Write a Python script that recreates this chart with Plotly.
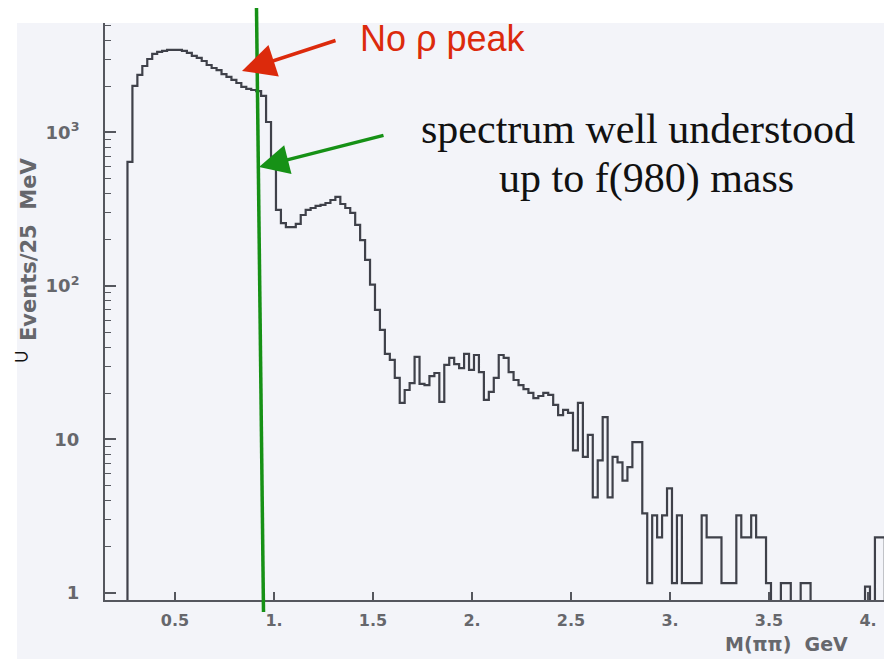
import numpy as np
import plotly.graph_objects as go

# Histogram of the pi-pi invariant mass spectrum, 25 MeV bins
first_edge = 0.26      # GeV, low edge of the first bin
bin_width = 0.025      # GeV
events = [
    643, 2010, 2370, 2710, 3010, 3250, 3350, 3400, 3450, 3450,
    3450, 3400, 3300, 3150, 3060, 2920, 2750, 2630, 2550, 2400,
    2300, 2200, 2100, 1980, 1920, 1890, 1860, 1730, 1170, 614,
    313, 257, 242, 242, 254, 290, 313, 322, 332, 337,
    347, 363, 380, 342, 322, 299, 250, 199, 148, 102,
    69.8, 51.7, 36.1, 33.0, 25.2, 17.3, 21.0, 23.3, 34.5, 23.0,
    22.6, 25.9, 27.1, 17.6, 30.6, 34.0, 31.0, 29.2, 36.1, 28.4,
    35.5, 27.5, 18.1, 20.4, 25.2, 35.5, 34.0, 27.5, 24.4, 22.6,
    21.3, 20.1, 18.6, 19.2, 20.1, 19.5, 16.8, 14.4, 15.6, 14.9,
    8.5, 17.3, 7.7, 10.7, 4.2, 7.3, 14.0, 4.2, 7.7, 7.1,
    5.4, 6.6, 9.6, 9.6, 3.3, 1.16, 3.2, 2.3, 3.2, 4.8,
    1.16, 3.2, 1.16, 1.16, 1.16, 1.16, 3.2, 2.3, 2.3, 2.3,
    1.16, 1.16, 1.16, 3.2, 2.3, 2.3, 3.2, 2.3, 2.3, 1.16,
    0, 0, 1.16, 1.16, 0, 0, 1.16, 1.16, 0, 0,
    0, 0, 0, 0, 0, 0, 0, 0, 0, 1.1,
    0, 2.3, 2.3,
]

x_tick_vals = [0.5, 1.0, 1.5, 2.0, 2.5, 3.0, 3.5, 4.0]
x_tick_text = ["0.5", "1.", "1.5", "2.", "2.5", "3.", "3.5", "4."]
y_tick_vals = [1, 10, 100, 1000]
y_tick_text = ["1", "10", "10<sup>2</sup>", "10<sup>3</sup>"]
y_minor_vals = [m * d for d in (1, 10, 100, 1000) for m in range(2, 10) if m * d <= 5000]

SCAN = "#f3f4f9"
INK = "#3f414a"
AXIS = "#55575e"
LABEL = "#66676c"
GREEN = "#169116"
RED = "#dc2a0c"

# step outline that drops to the baseline at empty bins and at both ends
counts = np.array(events, dtype=float)
edges = first_edge + bin_width * np.arange(len(counts) + 1)
floor = 0.3
shown = np.where(counts > 0, counts, floor)
xs = np.concatenate([[edges[0]], edges[:-1], [edges[-1], edges[-1]]])
ys = np.concatenate([[floor], shown, [shown[-1], floor]])

fig = go.Figure()
fig.add_trace(go.Scatter(
    x=xs, y=ys, mode="lines", line_shape="hv",
    line=dict(color=INK, width=2.2), hoverinfo="skip",
))

# plot area in pixels: x 105..884, y 23..600
L, R, T, B = 105, 884, 23, 600
W, H = R - L, B - T


def px(xp):
    return (xp - L) / W


def py(yp):
    return (B - yp) / H


fig.update_layout(
    width=884, height=659,
    margin=dict(l=L, r=884 - R, t=T, b=659 - B, pad=0),
    paper_bgcolor="white",
    plot_bgcolor=SCAN,
    showlegend=False,
    xaxis=dict(
        range=[0.1465, 4.0808], showgrid=False, zeroline=False,
        showline=True, linecolor=AXIS, linewidth=2,
        ticks="inside", ticklen=8, tickwidth=2, tickcolor=AXIS,
        tickvals=x_tick_vals, ticktext=x_tick_text,
        tickfont=dict(family="DejaVu Sans", size=16, color=LABEL, weight="bold"),
        ticklabelstandoff=5,
    ),
    yaxis=dict(
        type="log", range=[-0.0456, 3.713], showgrid=False, zeroline=False,
        showline=True, linecolor=AXIS, linewidth=2,
        ticks="inside", ticklen=11, tickwidth=1.6, tickcolor=AXIS,
        tickvals=y_tick_vals, ticktext=y_tick_text,
        tickfont=dict(family="DejaVu Sans", size=18, color=LABEL, weight="bold"),
        ticklabelstandoff=20,
        minor=dict(tickvals=y_minor_vals, ticks="inside", ticklen=6,
                   tickwidth=1.4, tickcolor=AXIS),
    ),
    shapes=[
        dict(type="rect", xref="paper", yref="paper", layer="below",
             x0=px(17), x1=1.02, y0=py(670), y1=py(23),
             fillcolor=SCAN, line=dict(width=0)),
        dict(type="line", xref="paper", yref="paper",
             x0=px(256.5), y0=py(8), x1=px(263.5), y1=py(612),
             line=dict(color=GREEN, width=3.5)),
    ],
)

annotations = [
    # axis titles
    dict(text="Events/25  MeV", x=px(29), y=py(250), textangle=-90,
         font=dict(family="DejaVu Sans", size=21, color=LABEL, weight="bold")),
    dict(text="⊃", x=px(21), y=py(356),
         font=dict(family="DejaVu Sans", size=20, color="#111111")),
    dict(text="M(ππ)  GeV", x=px(786), y=py(644),
         font=dict(family="DejaVu Sans", size=19, color=LABEL, weight="bold")),
    # call-outs
    dict(text="No ρ peak", x=px(358), y=py(38.5), xanchor="left",
         font=dict(family="Liberation Sans", size=36, color=RED)),
    dict(text="spectrum well understood", x=px(638), y=py(128.7),
         font=dict(family="Liberation Serif", size=42, color="#111111")),
    dict(text="up to f(980) mass", x=px(646.5), y=py(178.7),
         font=dict(family="Liberation Serif", size=42, color="#111111")),
    # arrows
    dict(text="", x=px(242), y=py(71), ax=95, ay=-31, showarrow=True,
         arrowhead=2, arrowsize=1.9, arrowwidth=3.5, arrowcolor=RED,
         standoff=0, startstandoff=0),
    dict(text="", x=px(259), y=py(167), ax=126, ay=-32, showarrow=True,
         arrowhead=2, arrowsize=1.7, arrowwidth=3.5, arrowcolor=GREEN,
         standoff=0, startstandoff=0),
]
for a in annotations:
    a.setdefault("xref", "paper")
    a.setdefault("yref", "paper")
    a.setdefault("xanchor", "center")
    a.setdefault("yanchor", "middle")
    a.setdefault("showarrow", False)
    fig.add_annotation(**a)

fig.write_html("out.html")
